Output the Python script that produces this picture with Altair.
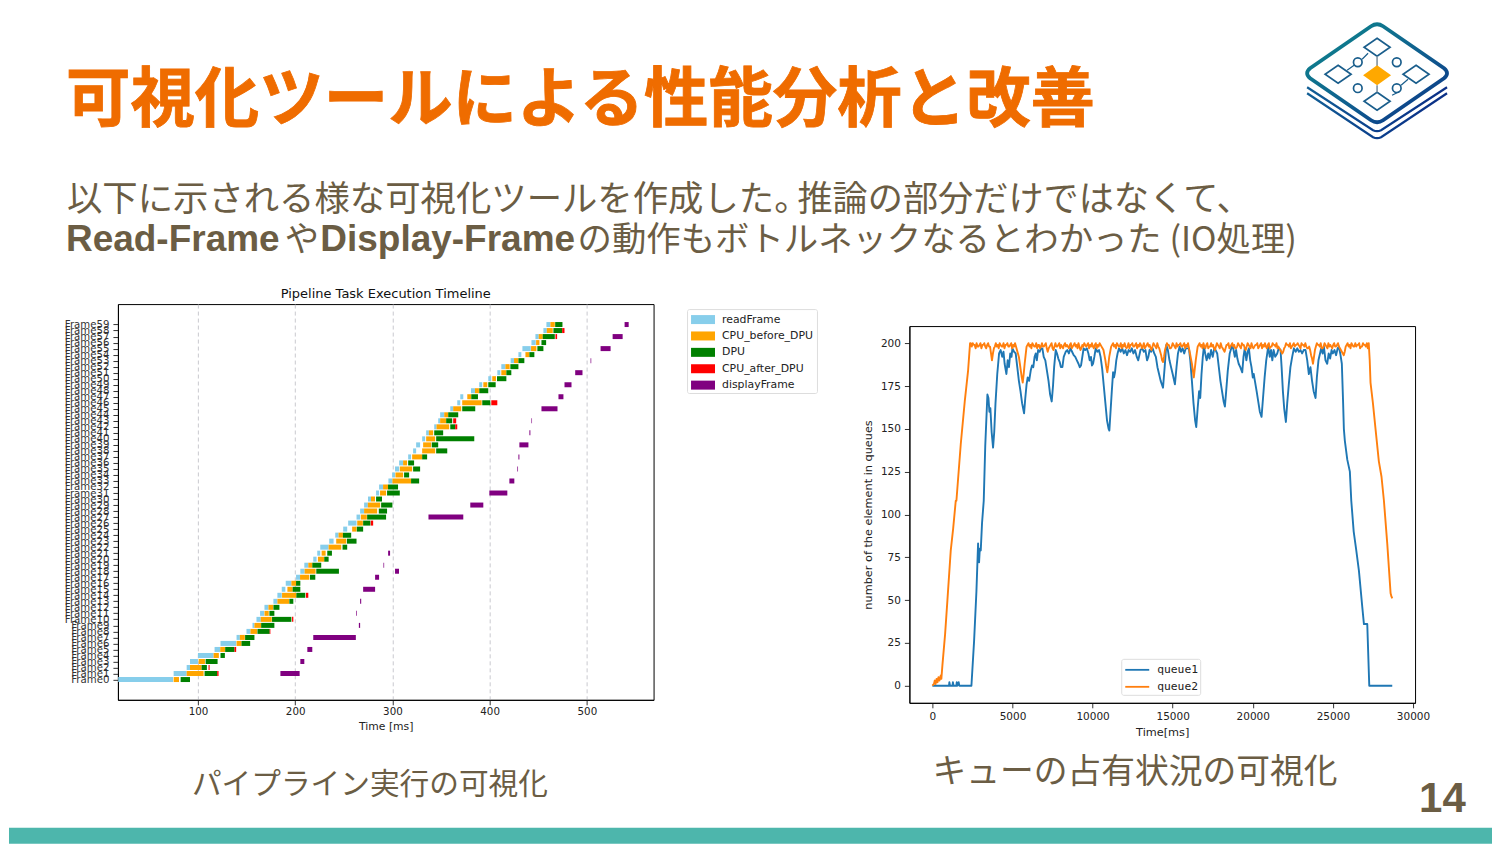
import altair as alt
import pandas as pd

# ---------- Gantt data (ms), one entry per frame 0..59 ----------
read_start = [18,75,88.4,91.8,100,117.1,123.2,139.7,149.9,156.1,160.2,163.9,168.4,177.6,181.7,186.2,190.3,200.9,205.3,209.4,218.6,222.7,225.8,235,241.2,249.4,254.5,263.1,266.8,270.9,274.9,283.2,286.3,295.9,299.7,302.7,306.9,316.2,321.3,324.4,330.6,334.7,343,347.1,349.1,359.5,366.7,369.8,380.8,389.3,398.6,407.9,412,421.6,429.6,433.7,443,447.1,455.3,458.4]
read_end = [74.4,88.4,91.8,100,116.1,122.9,139.3,143.1,154,158.1,164.6,168,172.5,181.7,186.2,189.9,196.1,205,209.7,213.5,222,225.8,234.4,239.5,244.6,253.5,263.1,266.8,270.9,274.7,278,286.3,290.4,300,302.7,306.9,311,319.2,324.4,328.5,333.7,337.5,345.4,349.1,353.3,362.5,369.8,372.9,384.9,392.4,401.7,411,416.2,425.1,432.6,442.3,447.4,450.5,458.8,462.5]
cpu_start = [75,88.4,91.8,100.7,116.1,122.9,139.7,143.1,154,158.1,164.6,168.4,172.5,181.7,186.5,192,196.1,205,209.7,213.5,223.4,227.2,234.4,242.2,244.6,258.6,263.8,267.5,270.9,274.7,278,287.3,290.4,300,303.1,307.6,311,320.3,330.6,331.6,334.7,337.5,345.4,349.1,353.3,362.5,371.8,377,384.9,393.5,402.7,412,416.2,425.1,436.8,442.6,447.8,450.5,458.8,462.5]
cpu_end = [80.5,105.8,103.8,107.2,121.5,128,144.8,148.2,160.9,165,175.9,172.8,177.3,193.7,201.2,197.4,200.9,214.5,221,217.6,229.9,231.3,247.4,252.5,249.1,263.1,269.6,273.7,284.3,287.4,282.1,293.5,295.5,319.2,311,320.3,315.1,330.6,344,339.9,344,341.9,358.4,355.3,357.4,370.8,391.8,381.1,389,397.6,406.5,417.2,420.6,429.6,440.9,448.1,451.2,454.6,464.9,467]
dpu_start = [82.2,106.8,103.8,107.9,123.2,128,144.8,148.5,161.2,165,176.2,173.5,177.6,194,201.2,197.4,200.9,215.2,221.7,217.6,229.9,233,248.7,253.2,249.1,263.4,269.9,274,286,288.4,283.2,294.5,295.5,319.2,312,321.3,316.2,330.6,345,340.5,345,343,359.5,355.3,357.4,371.8,392.4,381.1,389.3,398.6,407.6,417.2,421.3,429.6,440.9,449.1,453.3,454.6,465.6,467.4]
dpu_end = [91.8,119.8,109.2,120.2,127.7,137.6,153.7,158.1,173.8,178.6,196.1,178.6,183.8,198.1,210.4,205.3,205.3,220.7,245,226.8,234.4,237.8,253.5,263.1,257.6,269.9,277.4,293.5,294.5,300,289.3,307.6,305.8,327.5,317.2,328.5,322.3,335.7,356.4,347.1,384.2,352.2,364.6,361.5,367.7,385.2,400.7,388,398.6,406.2,417.2,422.3,429.6,435.7,446,455.3,458.1,467,474.6,474.9]
after_frames = [1,2,5,8,10,14,26,42,43,46,57,58]
after_start = [119.8,110.9,137.6,173.8,196.8,211.1,277.8,364.6,362.5,401.7,467.7,474.6]
after_end = [121.2,112,139.3,174.5,198.1,213.5,280.2,366.7,365.6,407.9,469.4,477]
disp_frames = [1,3,5,7,9,11,13,15,17,18,19,21,27,29,31,33,35,37,39,41,43,45,47,49,51,53,55,57,59]
disp_start = [184.8,205.3,212.5,218.6,265.5,262.7,266.8,269.9,282.2,302.7,290.8,295.6,337.1,380.1,399.7,420.3,428.5,429.6,430.6,440.9,443,453.3,470.8,477,488,503.8,514.1,526.5,538.8]
disp_end = [204.6,209.4,217.6,262.4,266.8,263.4,267.9,282.2,286.3,306.8,291.5,297.6,372.9,393.5,418.2,425.4,429.2,430.6,439.9,441.9,443.6,469.8,475.9,484.2,495.5,504.5,524.4,536.8,543]
task_names = ["readFrame","CPU_before_DPU","DPU","CPU_after_DPU","displayFrame"]
task_colors = ["#87CEEB","#FFA500","#008000","#FF0000","#800080"]

# ---------- Queue data ----------
q1_time = [0,620,1040,1060,1100,1260,1280,1320,1500,1520,1560,1640,1680,2437,2603,2749,2853,2880,2915,2960,3019,3100,3206,3300,3435,3500,3560,3620,3700,3788,3860,3940,4050,4163,4260,4360,4440,4510,4621,4700,4780,4860,4940,4995,5100,5200,5300,5400,5500,5600,5723,5800,5880,5950,6040,6139,6220,6300,6380,6451,6520,6600,6700,6780,6867,6950,7050,7150,7250,7350,7449,7530,7600,7699,7780,7860,7950,8020,8115,8200,8323,8420,8520,8620,8720,8820,8920,9020,9120,9200,9280,9360,9440,9540,9640,9740,9820,9900,9960,10029,10110,10195,10300,10400,10500,10600,10700,10800,10900,11000,11048,11120,11200,11280,11340,11400,11480,11560,11650,11750,11850,11950,12050,12150,12250,12350,12450,12550,12650,12760,12850,12899,12990,13100,13200,13300,13400,13481,13560,13650,13750,13850,13950,14050,14150,14250,14397,14500,14600,14700,14800,14900,15000,15140,15240,15330,15431,15520,15620,15720,15820,16014,16100,16200,16300,16400,16472,16560,16650,16720,16800,16880,16950,17030,17120,17220,17300,17400,17500,17600,17678,17780,17880,17980,18080,18180,18260,18340,18440,18560,18718,18800,18880,18960,19040,19120,19220,19342,19420,19500,19600,19680,19758,19840,19920,20000,20060,20132,20240,20340,20440,20548,20640,20740,20840,20964,21060,21140,21220,21300,21400,21526,21620,21734,21800,21880,21960,22067,22150,22250,22350,22460,22566,22680,22780,22880,22980,23080,23180,23294,23400,23500,23600,23700,23800,23918,24000,24100,24272,24360,24440,24540,24646,24740,24830,24918,25000,25100,25200,25300,25374,25460,25560,25640,25686,25748,25900,26060,26149,26300,26461,26627,26835,26939,27147,27272,28707]
q1_value = [0,0,0,2,0,0,2,0,0,2,0,2,0,0,26,55,83,74,72,80,79,95,108,140,170,168,160,162,148,139,148,165,182,194,196,192,195,188,182,190,186,194,192,197,195,194,186,178,172,165,159,168,176,180,178,184,187,186,192,194,190,196,195,197,197,192,190,184,178,170,166,175,186,196,194,191,189,186,186,192,195,196,194,197,195,193,192,190,188,186,187,192,197,196,197,194,190,192,187,188,192,197,195,196,192,185,175,165,155,150,149,160,172,183,180,183,190,194,197,195,197,194,196,193,196,195,197,194,196,192,190,192,196,197,195,196,190,192,196,195,197,194,192,186,182,178,174,186,199,196,190,186,182,176,186,194,198,195,197,194,197,197,190,178,165,155,151,162,172,168,182,192,198,194,190,194,191,196,192,197,196,194,186,178,172,166,163,172,184,194,199,196,192,196,191,188,186,183,192,197,190,195,197,190,186,180,182,178,172,166,160,157,168,180,190,198,192,196,190,196,192,194,197,196,186,172,162,154,165,176,186,192,197,195,197,195,196,194,196,196,190,182,186,178,172,168,180,190,197,194,198,190,188,194,191,196,194,196,193,197,198,194,188,165,150,143,132,125,108,90,79,67,46,36,36,0,0]
q2_time = [0,100,150,200,260,320,380,440,523,560,627,793,939,1147,1300,1459,1500,1771,2021,2229,2353,
2400,2520,2640,2760,2880,3000,3120,3240,3360,3480,3600,3720,3840,3960,4080,4200,4320,4440,4560,4680,
4800,4920,5040,5160,5280,5400,5520,5640,5760,5880,6000,6120,6240,6360,6480,6600,6720,6840,6960,7080,
7200,7320,7440,7560,7680,7800,7920,8040,8160,8280,8400,8520,8640,8760,8880,9000,9120,9240,9360,9480,
9600,9720,9840,9960,10080,10200,10320,10440,10560,10680,10800,10920,11040,11160,11280,11400,11520,11640,11760,11880,
12000,12120,12240,12360,12480,12600,12720,12840,12960,13080,13200,13320,13440,13560,13680,13800,13920,14040,14160,14280,
14400,14520,14640,14760,14880,15000,15120,15240,15360,15480,15600,15720,15840,15960,16080,16200,16320,16440,16560,16680,
16800,16920,17040,17160,17280,17400,17520,17640,17760,17880,18000,18120,18240,18360,18480,18600,18720,18840,18960,19080,
19200,19320,19440,19560,19680,19800,19920,20040,20160,20280,20400,20520,20640,20760,20880,21000,21120,21240,21360,21480,
21600,21720,21840,21960,22080,22200,22320,22440,22560,22680,22800,22920,23040,23160,23280,23400,23520,23640,23760,23880,
24000,24120,24240,24360,24480,24600,24720,24840,24960,25080,25200,25320,25440,25560,25680,25800,25920,26040,26160,26280,
26400,26520,26640,26760,26880,27000,27120,27240,27300,27350,27500,27662,27870,28036,28187,28395,28603,28660,28707]
q2_value = [0,1,3,1,4,2,5,3,6,4,12,30,50,79,92,108,108,141,166,184,200,
200,200,199,200,198,200,199,200,197,200,198,190,197,200,199,200,198,200,199,200,
198,200,199,200,196,192,184,177,188,198,200,199,200,198,200,199,197,200,198,200,
195,198,200,196,200,198,200,199,197,200,199,197,200,198,200,199,200,196,199,200,
198,200,199,200,197,200,199,200,198,196,190,183,192,198,200,199,200,198,200,199,
200,197,200,199,200,198,200,199,200,197,200,198,200,199,196,200,198,200,197,193,
189,196,200,199,197,200,198,200,199,200,198,200,199,200,194,188,180,190,198,200,
199,200,197,200,198,200,199,196,200,198,200,197,195,199,200,198,200,199,197,200,
198,200,199,196,200,198,200,197,199,200,198,200,199,200,197,200,198,200,199,200,
198,196,194,197,200,199,200,198,200,199,200,198,200,199,200,197,198,193,188,196,
200,199,200,197,200,198,200,199,197,200,198,200,197,195,193,198,200,199,200,198,
200,199,200,198,200,199,200,200,190,177,165,150,131,122,108,83,54,52,51]
# further samples of queue2 along its top band (every 120 ms from 2460 ms)
q2_band_time = list(range(2460, 27181, 120))
q2_band_value = [198,199,197,198,199,197,199,198,199,198,
194,194,198,198,197,199,198,197,199,198,
199,197,198,198,194,188,180,182,193,199,
198,197,199,198,197,199,198,198,199,197,
197,199,197,198,198,199,197,198,199,198,
198,199,197,199,198,197,198,197,198,199,
199,197,198,198,199,197,198,199,197,193,
186,187,195,199,198,197,199,198,197,198,
198,198,197,199,198,199,197,198,199,198,
197,199,198,197,198,199,197,198,195,190,
192,198,199,197,198,199,197,198,199,198,
199,197,198,197,191,184,185,194,199,198,
197,198,199,197,198,198,197,198,199,197,
198,196,197,199,197,199,198,197,198,199,
197,199,197,198,199,197,198,198,199,197,
199,197,198,198,199,197,198,199,198,197,
197,195,195,198,199,198,197,199,198,199,
199,197,199,198,198,197,196,191,192,198,
199,198,197,198,199,197,198,198,199,198,
199,198,196,194,195,199,198,197,199,198,
198,199,197,198,199,198,197]

# ---------- Slide text ----------
slide_title = "可視化ツールによる性能分析と改善"
line1_parts = ["以下に示される様な可視化ツールを作成した。", "推論の部分だけではなくて、"]
line2_parts = ["Read-Frame", "や", "Display-Frame", "の動作もボトルネックなるとわかった (IO処理)"]
caption_left = "パイプライン実行の可視化"
caption_right = "キューの占有状況の可視化"
page_no = "14"

ORANGE, BROWN, TEAL = "#EF6C00", "#6B5D44", "#4DB6AC"
CJK, LATIN = "Noto Sans CJK JP", "Liberation Sans"
PLOT_FONT = "DejaVu Sans"

one = pd.DataFrame({"k": [0]})

def txt(s, x, y, size, color=BROWN, font=CJK, weight="normal", **kw):
    return alt.Chart(one).mark_text(
        text=s, font=font, fontSize=size, fontWeight=weight, color=color,
        align="left", baseline="alphabetic", **kw,
    ).encode(x=alt.value(x - 8), y=alt.value(y - 8))

def glyph(path, cx, cy, **kw):
    return alt.Chart(one).mark_point(shape=path, size=4, opacity=1, **kw).encode(
        x=alt.value(cx - 8), y=alt.value(cy - 8))

grad = alt.LinearGradient(gradient="linear", x1=0, y1=0, x2=1, y2=1, stops=[
    alt.GradientStop(offset=0, color="#0E8A8C"), alt.GradientStop(offset=0.55, color="#0F5F8F"),
    alt.GradientStop(offset=1, color="#0B2F86")])
grad2 = alt.LinearGradient(gradient="linear", x1=0, y1=0, x2=1, y2=0, stops=[
    alt.GradientStop(offset=0, color="#125F95"), alt.GradientStop(offset=0.5, color="#0B3F8C"),
    alt.GradientStop(offset=1, color="#0B2F86")])
LOGO = "#1A5E8C"
cx, cy = 1377, 75
outer = "M-6,-49Q0,-53 6,-49L67,-7Q73,-2 67,3L6,45Q0,49 -6,45L-67,3Q-73,-2 -67,-7Z"
chev = "M-70,12L-4,55Q0,57 4,55L70,12M-70,18L-4,62Q0,64 4,62L70,18"
boxes = ("M0,-37L13,-28L0,-19L-13,-28Z M-39,-10L-26,-1L-39,8L-52,-1Z "
         "M39,-10L52,-1L39,8L26,-1Z M0,17L13,26L0,35L-13,26Z")
rings = ("M-15,-13A4.3,4.3 0 1 1 -23.6,-13A4.3,4.3 0 1 1 -15,-13Z M24,-13A4.3,4.3 0 1 1 15.4,-13A4.3,4.3 0 1 1 24,-13Z "
         "M-15,13A4.3,4.3 0 1 1 -23.6,13A4.3,4.3 0 1 1 -15,13Z M24,13A4.3,4.3 0 1 1 15.4,13A4.3,4.3 0 1 1 24,13Z")
links = "M-30,-5L-23,-10M-15,-16L-9,-22M15,20L23,16M24,10L31,4"
stems = "M0,-19L0,-9M0,10L0,17"
core = "M0,-10L14,0L0,10L-14,0Z"

blank = alt.Chart(one).mark_point(opacity=0, size=1).encode(x=alt.value(0), y=alt.value(0))
band = alt.Chart(one).mark_rect(color=TEAL).encode(
    x=alt.value(0), x2=alt.value(1484), y=alt.value(820), y2=alt.value(836))
head = alt.layer(
    band,
    txt(slide_title, 65, 121, 64.5, ORANGE, weight="bold", stroke=ORANGE, strokeWidth=0.8),
    txt(line1_parts[0], 66, 211, 35.4),
    txt(line1_parts[1], 797, 211, 35.2),
    txt(line2_parts[0], 65, 251, 37, font=LATIN, weight="bold"),
    txt(line2_parts[1], 284, 251, 34.3),
    txt(line2_parts[2], 319.5, 251, 37, font=LATIN, weight="bold"),
    txt(line2_parts[3], 577, 251, 34.4),
    txt(caption_left, 191, 794, 29.7),
    txt(caption_right, 932, 783, 33.8),
    txt(page_no, 1419, 812, 42, font=LATIN, weight="bold"),
    glyph(outer, cx, cy, filled=False, stroke=grad, strokeWidth=3.8),
    glyph(chev, cx, cy, filled=False, stroke=grad2, strokeWidth=2.2),
    glyph(boxes, cx, cy, filled=False, stroke=LOGO, strokeWidth=1.7),
    glyph(rings, cx, cy, filled=False, stroke=LOGO, strokeWidth=1.7),
    glyph(links, cx, cy, filled=False, stroke=LOGO, strokeWidth=1.2),
    glyph(stems, cx, cy, filled=False, stroke="#8899A6", strokeWidth=1.7),
    glyph(core, cx, cy, filled=True, fill="#FFA800", strokeWidth=0),
).properties(width=1484, height=296, view=alt.ViewConfig(stroke=None))

rows = []
for i in range(60):
    rows.append((i, task_names[0], read_start[i], read_end[i]))
    rows.append((i, task_names[1], cpu_start[i], cpu_end[i]))
    rows.append((i, task_names[2], dpu_start[i], dpu_end[i]))
for f, s, e in zip(after_frames, after_start, after_end):
    rows.append((f, task_names[3], s, e))
for f, s, e in zip(disp_frames, disp_start, disp_end):
    rows.append((f, task_names[4], s, e))
gdf = pd.DataFrame(rows, columns=["frame", "task", "start", "end"])

swatch = "M-1.6,-0.6H1.6V0.6H-1.6Z"
gantt = alt.Chart(gdf, title=alt.TitleParams(
    "Pipeline Task Execution Timeline", font=PLOT_FONT, fontSize=13, fontWeight="normal",
    color="#111", offset=3)).mark_bar(size=5).encode(
    x=alt.X("start:Q", scale=alt.Scale(domain=[17.7, 568.6], nice=False, zero=False, padding=0),
            axis=alt.Axis(values=[100, 200, 300, 400, 500], title="Time [ms]", grid=True, gridDash=[4, 3],
                          gridColor="#C9C9CF", labelFont=PLOT_FONT, labelFontSize=10.3, titleFont=PLOT_FONT,
                          titleFontSize=10.8, titleFontWeight="normal", labelColor="#222", titleColor="#222",
                          tickColor="#333", domainColor="#000", titlePadding=3, labelPadding=2)),
    x2="end:Q",
    y=alt.Y("frame:Q", scale=alt.Scale(domain=[-3.37, 62.4], nice=False, zero=False, padding=0),
            axis=alt.Axis(values=list(range(60)), labelExpr="'Frame' + datum.value", title=None,
                          grid=False, labelFont=PLOT_FONT, labelFontSize=10.2, labelColor="#333", labelOverlap=False,
                          labelPadding=4, tickColor="#333", domainColor="#000", labelLimit=100)),
    color=alt.Color("task:N", scale=alt.Scale(domain=task_names, range=task_colors),
                    legend=alt.Legend(title=None, orient="none", legendX=569.5, legendY=5, symbolType=swatch,
                                      symbolSize=225, symbolStrokeWidth=0, symbolOpacity=1,
                                      labelFont=PLOT_FONT, labelFontSize=10.9, labelColor="#222",
                                      labelOffset=11.5, rowPadding=3.4, padding=3, strokeColor="#DDD",
                                      fillColor="white", cornerRadius=2, symbolOffset=5.5)),
).properties(width=536, height=396, view=alt.ViewConfig(stroke="#000", strokeWidth=1))

ldf = pd.concat([
    pd.DataFrame({"t": q1_time, "v": q1_value, "s": "queue1"}),
    pd.DataFrame({"t": q2_time + q2_band_time, "v": q2_value + q2_band_value, "s": "queue2"}),
])
line = alt.Chart(ldf).mark_line(strokeWidth=1.9, strokeJoin="round").encode(
    x=alt.X("t:Q", scale=alt.Scale(domain=[-1435, 30130], nice=False, zero=False),
            axis=alt.Axis(values=list(range(0, 30001, 5000)), title="Time[ms]", grid=False, format="d",
                          labelFont=PLOT_FONT, labelFontSize=10.5, titleFont=PLOT_FONT, titleFontSize=11.3,
                          titleFontWeight="normal", labelColor="#222", titleColor="#222", labelPadding=4,
                          tickColor="#333", domainColor="#000", labelFlush=False, titlePadding=4)),
    y=alt.Y("v:Q", scale=alt.Scale(domain=[-10, 210], nice=False, zero=False),
            axis=alt.Axis(values=list(range(0, 201, 25)), title="number of the element in queues", grid=False,
                          labelFont=PLOT_FONT, labelFontSize=10.5, titleFont=PLOT_FONT, titleFontSize=11.3,
                          titleFontWeight="normal", labelColor="#222", titleColor="#222", labelPadding=4,
                          tickColor="#333", domainColor="#000", titlePadding=7)),
    color=alt.Color("s:N", scale=alt.Scale(domain=["queue1", "queue2"], range=["#1f77b4", "#ff7f0e"]),
                    legend=alt.Legend(title=None, orient="none", legendX=212, legendY=333,
                                      symbolType="M-1.5,0H1.5", symbolSize=256, symbolStrokeWidth=1.8,
                                      labelFont="DejaVu Sans Mono", labelFontSize=11.3, labelColor="#222",
                                      labelOffset=11, rowPadding=2, padding=2, symbolOffset=5,
                                      strokeColor="#DDD", fillColor="white", cornerRadius=2)),
).properties(width=506, height=377, view=alt.ViewConfig(stroke="#000", strokeWidth=1))

def spacer(w, h):
    return blank.properties(width=w, height=h, view=alt.ViewConfig(stroke=None))

right = alt.vconcat(spacer(506, 21.5), line, spacing=0, bounds="flush").resolve_scale(color="independent")
row = alt.hconcat(spacer(108.5, 396), gantt, spacer(256, 396), right, spacing=0, bounds="flush").resolve_scale(color="independent")
chart = alt.vconcat(head, row, spacing=0, bounds="flush").properties(padding=0).resolve_scale(color="independent")

chart.save("out.html", embed_options={"renderer": "svg", "actions": False})
